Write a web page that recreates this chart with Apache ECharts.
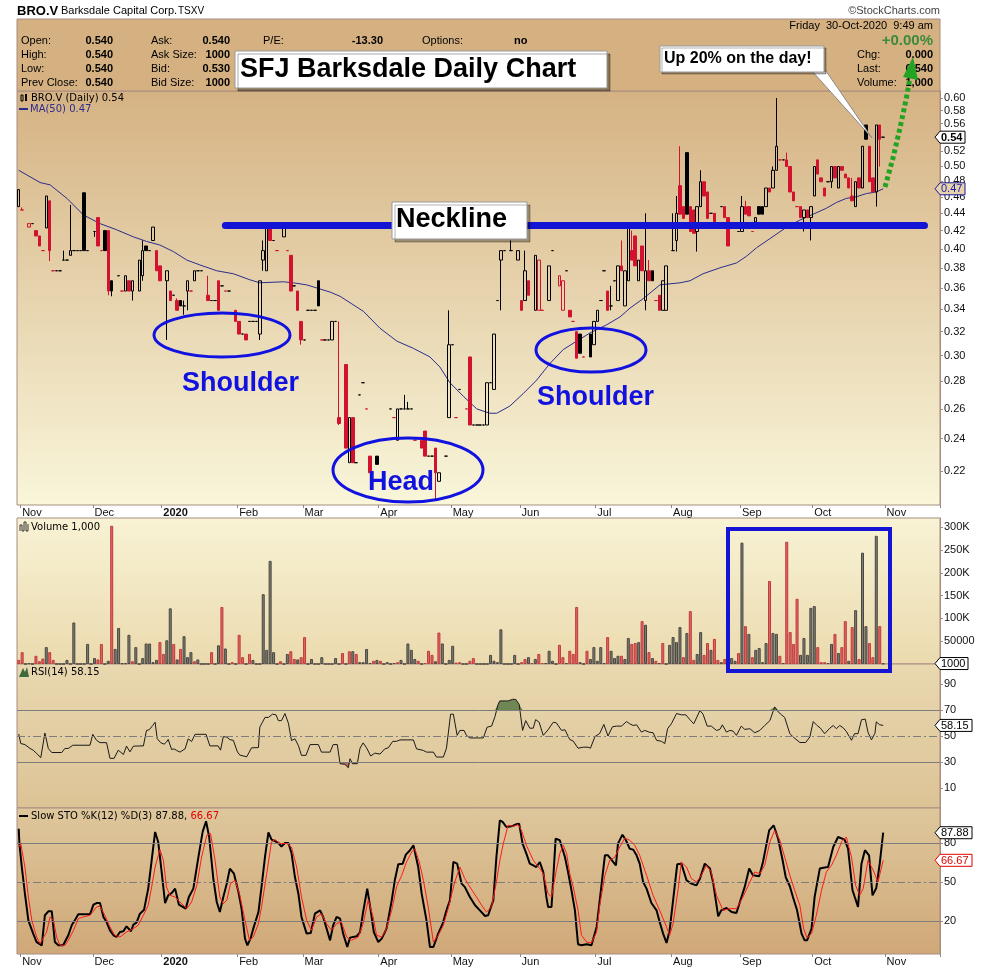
<!DOCTYPE html>
<html><head><meta charset="utf-8">
<script src="https://cdn.jsdelivr.net/npm/echarts@6/dist/echarts.min.js"></script>
<style>html,body{margin:0;padding:0;background:#fff}#c{width:990px;height:970px}</style>
</head><body><div id="c"></div>
<script>
// ---------- categories (trading days, TSXV) ----------
const holidays = ['2019-12-25','2019-12-26','2020-01-01','2020-02-17','2020-04-10','2020-05-18','2020-07-01','2020-08-03','2020-09-07','2020-10-12'];
function buildDays(a, b) {
  const out = []; const d = new Date(Date.UTC(a[0], a[1], a[2])); const e = new Date(Date.UTC(b[0], b[1], b[2]));
  while (d <= e) { const wd = d.getUTCDay(); const s = d.toISOString().slice(0, 10);
    if (wd !== 0 && wd !== 6 && holidays.indexOf(s) < 0) out.push(s); d.setUTCDate(d.getUTCDate() + 1); }
  return out;
}
const tradingDays = buildDays([2019, 9, 31], [2020, 10, 23]); // Oct 31 2019 .. (future slots to Nov 23 2020)
const monthNames = ['Jan','Feb','Mar','Apr','May','Jun','Jul','Aug','Sep','Oct','Nov','Dec'];

// ---------- price data: [open, close, low, high] ----------
const ohlc = [
[.448,.469,.448,.469],[.444,.444,.444,.447],null,[.424,.428,.424,.428],[.428,.428,.428,.428],
[.420,.414,.414,.420],[.414,.403,.403,.414],[.398,.398,.398,.398],[.423,.461,.423,.461],[.455,.398,.387,.455],
[.377,.377,.377,.377],[.377,.377,.377,.377],[.377,.377,.377,.377],[.388,.388,.388,.398],[.388,.388,.388,.388],
[.393,.398,.393,.450],[.398,.398,.398,.398],[.398,.398,.398,.398],[.398,.398,.398,.398],[.465,.398,.398,.465],
[.398,.398,.398,.398],null,[.419,.419,.413,.419],[.435,.403,.403,.435],[.398,.398,.398,.398],
[.420,.398,.398,.420],[.420,.357,.353,.420],[.367,.357,.352,.367],null,[.372,.372,.372,.372],
[.357,.357,.357,.357],[.357,.372,.357,.372],[.367,.357,.357,.367],[.357,.367,.348,.367],null,
[.357,.388,.357,.388],[.372,.398,.367,.409],[.403,.398,.398,.403],[.398,.398,.398,.398],[.409,.424,.409,.424],
[.398,.377,.377,.398],[.382,.367,.367,.382],null,[.367,.377,.313,.377],[.357,.348,.348,.357],
[.353,.353,.353,.353],[.348,.339,.339,.350],[.348,.343,.343,.348],[.343,.343,.335,.348],[.357,.367,.339,.367],
[.357,.357,.357,.357],[.367,.377,.367,.377],[.377,.377,.377,.377],[.377,.377,.377,.377],null,
[.353,.348,.348,.372],[.348,.348,.348,.348],[.348,.348,.348,.348],[.367,.339,.339,.367],[.362,.362,.362,.362],
[.357,.357,.357,.357],[.357,.357,.357,.357],null,[.339,.329,.329,.339],[.329,.318,.318,.329],
[.318,.318,.318,.318],[.318,.313,.313,.318],[.329,.329,.329,.329],[.329,.329,.329,.329],[.329,.329,.329,.329],
[.318,.367,.313,.367],[.388,.398,.377,.409],[.377,.424,.377,.424],[.424,.409,.409,.424],[.409,.409,.409,.409],
[.398,.398,.398,.398],null,[.413,.424,.413,.424],[.398,.398,.398,.398],[.393,.357,.357,.393],
[.362,.362,.362,.362],[.357,.339,.339,.357],[.329,.313,.309,.329],[.313,.313,.313,.313],[.339,.339,.339,.339],
[.339,.339,.339,.339],[.339,.339,.339,.339],[.367,.343,.343,.367],[.313,.313,.313,.313],[.313,.313,.313,.313],
[.313,.313,.313,.313],[.313,.329,.313,.329],[.329,.329,.329,.329],[.254,.250,.249,.329],null,
[.293,.234,.234,.293],[.225,.254,.225,.254],[.254,.225,.225,.254],[.225,.225,.225,.225],[.270,.270,.270,.270],
[.279,.279,.279,.279],[.260,.260,.260,.260],[.229,.219,.219,.229],null,[.229,.224,.224,.229],
null,null,null,[.260,.260,.260,.260],[.254,.254,.254,.254],
[.239,.260,.239,.260],[.260,.260,.260,.260],[.260,.260,.260,.270],[.260,.260,.260,.265],[.260,.260,.260,.260],
[.239,.239,.239,.239],null,[.239,.234,.234,.239],[.245,.229,.229,.245],[.229,.229,.229,.229],
[.229,.229,.229,.229],[.234,.219,.204,.234],[.214,.219,.214,.219],null,[.229,.229,.229,.229],
[.254,.309,.254,.339],[.309,.309,.309,.309],[.254,.254,.254,.254],[.274,.274,.274,.274],null,
[.260,.260,.260,.260],[.299,.249,.249,.299],[.249,.249,.249,.249],[.249,.249,.249,.249],[.249,.249,.249,.249],
[.249,.249,.249,.249],[.249,.279,.249,.279],[.279,.279,.279,.279],[.274,.318,.274,.318],[.348,.348,.348,.348],
[.388,.398,.339,.398],[.398,.398,.398,.398],null,[.398,.398,.398,.409],null,
[.388,.398,.388,.398],[.348,.339,.339,.348],[.348,.377,.348,.398],[.367,.353,.353,.367],null,
[.339,.393,.339,.393],[.339,.388,.339,.388],[.339,.339,.339,.339],null,[.348,.382,.348,.382],
[.398,.398,.398,.398],null,[.362,.372,.362,.372],[.339,.367,.339,.367],[.377,.377,.377,.377],
[.339,.333,.333,.339],[.329,.329,.329,.329],[.320,.298,.298,.320],[.318,.302,.302,.318],[.299,.299,.299,.299],
null,[.318,.299,.299,.318],[.309,.329,.309,.329],[.329,.339,.329,.339],[.348,.348,.348,.348],
[.377,.377,.377,.377],[.357,.339,.339,.357],[.343,.343,.339,.362],[.367,.367,.367,.367],[.348,.382,.348,.382],
[.382,.377,.377,.409],[.343,.377,.343,.377],[.367,.424,.367,.424],[.398,.388,.388,.420],[.414,.382,.382,.414],
[.367,.388,.367,.388],[.403,.377,.377,.403],[.348,.377,.339,.440],[.377,.367,.367,.388],[.377,.367,.367,.377],
[.348,.348,.348,.348],[.353,.339,.339,.353],[.339,.367,.339,.367],[.339,.382,.339,.382],null,
[.398,.398,.398,.440],[.409,.440,.397,.461],[.474,.439,.439,.527],[.448,.434,.434,.448],[.518,.439,.439,.518],
[.448,.419,.419,.448],[.444,.417,.417,.444],[.419,.448,.397,.448],[.448,.479,.448,.494],[.479,.461,.461,.479],
[.466,.434,.434,.466],[.440,.440,.440,.440],[.440,.430,.430,.440],null,[.448,.448,.448,.448],
[.448,.435,.435,.448],[.435,.403,.403,.435],null,null,[.419,.419,.419,.419],
[.419,.448,.419,.461],[.448,.439,.439,.455],[.448,.437,.437,.448],[.419,.419,.419,.419],[.430,.435,.430,.435],
[.448,.439,.439,.448],[.448,.439,.439,.448],[.448,.471,.448,.471],[.471,.466,.466,.471],[.471,.494,.471,.499],
[.494,.527,.494,.600],[.508,.508,.508,.508],[.508,.508,.508,.508],[.508,.499,.499,.518],[.499,.466,.466,.499],
[.466,.455,.455,.466],[.448,.448,.448,.448],[.448,.435,.435,.448],[.435,.444,.419,.444],[.444,.435,.435,.444],
[.435,.448,.409,.448],[.461,.499,.461,.499],[.508,.489,.489,.508],[.484,.479,.479,.484],[.471,.461,.461,.471],
[.479,.479,.479,.479],[.479,.499,.471,.499],[.499,.484,.484,.499],[.471,.499,.471,.499],[.499,.494,.494,.499],
[.489,.484,.484,.489],[.484,.471,.471,.484],[.461,.455,.455,.484],[.448,.479,.448,.479],[.484,.471,.471,.484],
[.471,.527,.471,.527],[.558,.537,.537,.558],[.527,.479,.479,.527],[.484,.466,.466,.484],[.466,.558,.448,.558],
[.558,.537,.499,.558],[.540,.540,.540,.540]
];

// ---------- volume ----------
const volume = [
9000,26000,0,1500,0,18000,6000,12000,37000,26000, 9000,0,0,0,9000,0,91000,0,0,0,
44000,0,13000,10000,44000,0,7000,303000,33000,79000, 1500,1500,64000,6000,37000,0,13000,45000,45000,4000,
9000,48000,22000,52000,122000,44000,10000,33000,61000,15000, 26000,6000,10000,0,0,0,26000,0,41000,125000,
34000,0,4000,0,64000,15000,0,22000,9000,0, 0,153000,31000,226000,26000,0,6000,0,22000,28000,
11000,10000,15000,59000,0,11000,0,0,15000,0, 0,0,13000,0,24000,0,28000,28000,22000,4000,
4000,33000,2000,7000,9000,7000,0,4000,0,2000, 4000,9000,0,45000,31000,11000,7000,0,2000,29000,
20000,6000,69000,45000,0,9000,40000,3000,4000,0, 0,7000,13000,0,0,0,0,20000,7000,4000,
76000,0,0,0,20000,0,4000,11000,15000,2000, 11000,22000,2000,2000,29000,7000,0,42000,15000,2000,
29000,22000,125000,4000,0,29000,11000,37000,7000,37000, 2000,59000,29000,13000,18000,18000,11000,57000,44000,46000,
48000,94000,86000,26000,13000,7000,2000,46000,0,42000, 59000,48000,81000,15000,68000,116000,9000,22000,70000,20000,
46000,31000,55000,9000,4000,11000,0,13000,7000,24000, 266000,83000,66000,15000,31000,35000,4000,46000,182000,68000,
66000,18000,2000,268000,70000,44000,143000,20000,57000,20000, 123000,127000,37000,4000,4000,2000,44000,66000,24000,37000,
94000,7000,81000,118000,11000,244000,83000,46000,15000,281000, 83000,1000
];
const volumeRedDays = [0,1,5,6,7,9,10,23,24,27,33,41,42,45,47,51,56,59,62,64,65,67,76,79,80,82,83,94,96,98,103,105,110,116,118,119,120,122,127,128,131,132,146,147,149,151,152,157,158,160,161,162,165,171,175,178,179,181,183,185,187,193,195,196,199,200,202,203,205,209,211,213,218,221,223,224,225,226,232,233,234,237,239,240,242,244,247,248,250];

// ---------- MA(50) [day position, value] ----------
const ma50 = [[0,.494],[6.2,.478],[9.1,.475],[14,.458],[18.8,.438],[23.6,.428],[28.4,.421],[33.3,.413],[37.1,.408],[41,.404],[44.9,.397],[48.8,.388],[52.6,.383],[57.5,.377],[62.3,.374],[67.1,.368],[70,.365],[76.8,.366],[79.7,.365],[83.6,.363],[90.4,.356],[93.3,.352],[100.1,.338],[104.9,.323],[109.8,.312],[114.6,.306],[119.4,.299],[122.3,.291],[125.2,.279],[129.1,.269],[133,.260],[136.8,.257],[138.8,.257],[142.6,.262],[146.5,.271],[150.4,.281],[154.3,.294],[158.1,.305],[162,.312],[165.9,.319],[170.7,.326],[174.6,.333],[177.5,.341],[181.4,.350],[186.2,.363],[192,.365],[194.9,.367],[198.7,.374],[203.6,.380],[208.4,.385],[211.3,.392],[214.2,.401],[218.1,.411],[223,.424],[226.8,.432],[230.7,.439],[234.5,.446],[237.4,.453],[240.3,.458],[243.2,.460],[246.1,.464],[249,.466],[251,.470]];

// ---------- RSI(14) ----------
const rsi14 = [[0,51.5],[0.6,44.2],[1.8,43.4],[3.3,40.4],[4.2,39.1],[5.2,36.6],[6.4,33.3],[6.7,33.3],[7.6,52.3],[8.6,40.4],[9.6,37.3],[12.5,37.3],[13.4,40.4],[14.4,40.4],[15.7,42.9],[20.7,42.9],[21.5,51.3],[22.6,46.7],[23.6,44.9],[25.5,44.9],[26.5,32.8],[27.7,32.8],[28.9,39.1],[30.4,35.8],[31.3,42.2],[32.3,37.8],[33.3,42.2],[36.2,42.4],[37.1,54.3],[37.9,54.8],[38.9,58.1],[39.6,60.6],[40.2,48.0],[41.2,44.9],[42.2,43.7],[42.9,45.3],[43.4,47.3],[44.4,39.6],[45.1,40.1],[45.9,38.8],[46.8,37.6],[48.3,40.1],[49.2,47.8],[50.2,45.8],[51.2,51.3],[54.4,51.3],[55.5,42.4],[57.9,42.4],[58.6,39.1],[59.4,49.5],[60.4,49.2],[61.3,47.2],[62.3,46.7],[63.5,37.8],[64.2,35.3],[66.2,34.0],[67.6,40.9],[69.6,41.1],[70.0,56.8],[71.5,64.3],[72.5,64.3],[73.7,66.8],[74.7,66.3],[75.4,61.8],[76.3,61.8],[77.3,67.3],[78.3,59.9],[79.2,46.5],[80.2,47.8],[81.2,42.7],[82.1,35.1],[83.4,35.1],[84.6,43.4],[87.0,43.4],[87.9,37.6],[90.4,37.6],[91.3,43.4],[92.5,43.4],[93.3,28.7],[94.7,28.2],[95.7,25.6],[96.2,32.5],[96.9,28.7],[98.3,28.7],[99.1,40.6],[100.0,44.7],[101.0,40.9],[102.2,34.6],[103.4,36.8],[104.9,36.1],[106.3,40.1],[107.3,40.9],[108.6,45.9],[109.7,45.9],[110.7,47.0],[114.6,47.0],[115.5,40.1],[117.5,38.9],[118.4,37.6],[120.4,37.6],[121.3,33.8],[123.3,33.8],[124.2,40.6],[125.4,66.8],[126.2,66.8],[127.3,50.5],[128.1,54.3],[129.3,54.3],[130.0,50.5],[131.0,48.5],[134.9,48.5],[136.0,56.8],[137.3,57.6],[138.3,65.1],[139.2,74.4],[139.7,77.0],[142.1,77.0],[143.4,78.2],[144.3,78.2],[145.3,74.4],[146.3,54.3],[147.2,61.8],[148.4,56.0],[149.4,56.0],[150.1,62.6],[151.1,60.6],[152.3,50.5],[153.7,54.8],[155.2,60.6],[156.1,60.1],[157.6,54.3],[158.6,54.8],[159.1,54.3],[160.0,47.3],[161.0,46.1],[162.4,40.6],[163.9,41.4],[165.3,41.4],[166.0,40.6],[167.3,49.5],[168.7,52.0],[169.9,58.9],[171.1,50.0],[172.4,57.1],[173.6,57.6],[175.0,57.6],[176.5,61.1],[177.4,59.4],[178.4,58.1],[179.4,58.6],[180.8,53.0],[181.8,54.3],[183.0,53.0],[184.2,52.5],[185.2,46.7],[186.6,45.9],[187.6,44.2],[188.4,55.6],[189.5,59.4],[191.0,67.3],[192.4,66.3],[193.7,66.3],[194.9,62.5],[196.0,59.4],[197.8,69.6],[198.7,66.8],[199.9,57.6],[201.1,57.6],[202.6,54.3],[203.6,55.1],[204.3,58.6],[205.5,53.0],[206.5,54.3],[207.4,53.8],[208.4,50.5],[209.8,57.6],[210.8,55.1],[212.3,55.6],[213.7,52.5],[215.2,54.3],[216.6,58.1],[218.1,61.8],[219.5,72.4],[220.5,68.6],[221.5,66.3],[222.4,64.3],[223.9,51.8],[224.9,49.2],[226.8,45.0],[228.5,45.0],[229.7,49.2],[230.7,61.1],[231.8,58.1],[232.8,56.0],[234.0,51.8],[235.5,56.0],[236.5,58.1],[237.4,55.6],[238.4,58.1],[239.4,56.3],[240.3,53.5],[241.8,46.7],[242.7,51.8],[243.7,51.8],[244.7,62.5],[245.8,63.0],[246.6,52.8],[247.6,47.0],[248.6,52.0],[249.0,60.9],[250.0,58.6],[251.0,58.15]];

// ---------- Slow STO %K(12) ----------
const stoK = [[0,91.0],[0.2,79.5],[0.9,61.5],[1.8,41.0],[2.8,20.5],[4.2,10.3],[5.2,3.8],[6.7,1.3],[7.6,24.4],[8.6,27.4],[9.6,27.4],[10.5,3.8],[11.5,1.3],[12.9,1.3],[14.4,9.0],[15.4,16.7],[16.3,20.5],[17.3,25.1],[20.7,25.1],[21.7,32.6],[22.6,33.8],[23.6,33.8],[24.6,23.1],[25.5,19.2],[26.5,12.8],[27.5,9.0],[28.4,7.7],[29.4,11.5],[30.4,12.1],[31.3,15.9],[32.6,12.1],[33.3,17.2],[34.2,18.7],[35.2,25.6],[36.4,28.7],[37.6,44.9],[38.6,66.7],[39.6,88.5],[40.5,80.8],[41.5,57.7],[42.5,33.8],[43.4,39.7],[44.4,41.5],[45.4,44.9],[46.5,32.6],[48.5,29.5],[49.4,38.5],[50.7,44.9],[52.1,67.9],[53.4,88.5],[54.4,96.7],[55.3,84.6],[56.5,52.6],[57.5,34.6],[58.4,26.9],[59.4,38.5],[60.4,48.7],[61.3,60.3],[62.5,56.4],[63.8,42.3],[64.7,29.5],[65.7,6.4],[66.4,1.3],[67.3,6.4],[68.1,14.1],[69.6,26.9],[70.5,46.2],[71.5,69.2],[72.5,88.2],[73.4,82.6],[74.4,81.4],[75.4,80.0],[76.3,77.3],[77.3,80.0],[78.3,80.0],[79.2,72.3],[80.2,53.8],[81.2,41.0],[82.1,23.1],[83.6,10.3],[84.8,10.8],[86.0,25.6],[87.5,28.2],[88.4,23.1],[89.4,14.1],[90.4,5.1],[91.3,16.7],[92.3,23.1],[93.3,21.8],[94.2,10.3],[95.4,0.0],[96.2,7.2],[98.1,8.2],[99.1,11.5],[100.0,26.9],[101.2,44.9],[102.2,28.2],[103.1,11.5],[104.4,3.8],[105.4,6.4],[106.8,14.1],[108.3,35.9],[109.2,51.3],[110.2,63.6],[111.5,64.1],[112.4,71.0],[113.6,74.4],[114.6,78.2],[116.0,61.5],[117.0,41.0],[118.4,20.5],[119.4,0.0],[120.4,0.0],[121.8,10.3],[123.1,17.9],[124.2,28.2],[125.2,35.9],[126.2,65.4],[127.3,64.1],[128.6,48.7],[129.5,46.2],[131.0,38.5],[132.5,32.1],[133.9,28.2],[135.4,23.8],[136.3,24.4],[137.8,35.9],[138.7,69.2],[139.7,97.4],[140.5,96.2],[141.6,92.3],[143.1,92.8],[144.5,94.4],[145.3,94.9],[146.3,79.5],[147.4,71.8],[148.4,64.1],[149.4,62.8],[150.3,61.5],[151.3,65.4],[152.3,57.7],[153.2,38.5],[153.7,30.8],[154.7,30.8],[155.9,83.3],[157.1,82.1],[158.6,69.2],[159.5,57.7],[160.5,43.6],[161.5,28.2],[162.4,2.1],[163.4,1.3],[164.9,2.1],[166.3,1.3],[167.8,15.4],[168.7,35.9],[170.2,70.5],[171.1,70.5],[172.6,65.4],[173.4,62.8],[174.0,79.5],[175.3,86.4],[176.3,82.1],[177.4,75.6],[178.4,74.9],[179.4,70.5],[180.3,64.1],[181.3,50.0],[182.3,44.9],[183.7,33.8],[184.2,33.3],[185.2,28.2],[186.1,19.2],[187.1,10.3],[188.1,3.1],[189.0,12.8],[190.0,35.9],[191.2,63.6],[192.4,64.1],[193.9,51.3],[195.3,48.7],[196.8,47.4],[197.8,52.6],[199.2,64.1],[200.7,60.3],[201.6,50.0],[203.1,23.6],[204.0,28.2],[205.5,30.0],[207.0,26.9],[208.4,26.2],[209.4,34.6],[210.8,46.2],[212.1,60.3],[213.2,55.1],[215.0,54.4],[216.1,65.4],[217.9,89.7],[219.2,93.6],[220.5,83.3],[221.8,66.7],[222.7,53.8],[223.9,46.7],[224.8,38.5],[226.0,28.2],[227.3,10.3],[228.2,5.1],[228.9,5.1],[230.2,14.1],[231.1,38.5],[232.6,60.3],[233.6,61.0],[235.0,61.5],[236.5,76.9],[237.9,84.6],[239.8,82.6],[240.8,75.6],[242.1,43.6],[243.7,30.8],[244.7,64.1],[245.7,74.4],[246.9,70.5],[247.9,39.7],[249.0,45.4],[250.0,64.1],[251.0,87.88]];

// ---------- Slow STO %D(3) ----------
const stoD = [[0,76.9],[0.6,79.5],[1.8,61.5],[2.8,38.5],[3.8,20.5],[5.2,7.7],[6.2,2.6],[6.7,1.3],[8.1,11.5],[9.1,23.1],[10.1,20.5],[11.0,7.7],[12.0,1.3],[13.4,1.3],[14.4,5.1],[15.9,12.8],[17.3,21.8],[18.8,23.1],[20.7,24.4],[22.6,30.8],[23.6,31.3],[25.0,24.4],[26.5,15.4],[27.9,9.0],[29.4,7.7],[31.3,11.5],[33.3,14.1],[34.7,16.7],[36.2,24.4],[37.6,32.1],[38.6,46.2],[39.6,61.5],[41.0,74.9],[42.0,66.7],[42.9,46.2],[43.9,39.7],[45.4,38.5],[46.8,34.6],[48.8,29.5],[50.2,34.6],[51.7,47.4],[53.1,69.2],[54.6,85.9],[55.7,87.2],[57.0,66.7],[58.4,38.5],[59.4,33.3],[60.4,35.9],[61.5,48.7],[62.8,51.3],[64.2,39.7],[65.7,20.5],[67.0,5.1],[68.1,7.7],[69.6,17.9],[70.5,30.8],[72.0,56.4],[73.4,80.8],[74.4,82.6],[75.9,79.5],[77.8,79.5],[79.2,76.9],[80.7,61.5],[82.1,38.5],[83.6,20.5],[85.0,12.8],[86.5,23.1],[87.9,25.6],[89.4,17.9],[90.8,12.8],[92.3,17.9],[93.7,19.2],[95.2,7.7],[96.6,5.1],[98.6,7.7],[100.0,17.9],[101.5,36.4],[102.9,23.1],[103.9,9.0],[105.4,7.7],[106.8,14.1],[108.3,28.2],[109.7,46.2],[111.2,55.1],[112.6,65.4],[114.1,73.1],[115.0,75.6],[116.3,65.4],[117.5,51.3],[118.9,30.8],[120.4,3.8],[121.8,9.0],[123.3,16.7],[124.7,29.5],[126.6,50.0],[128.1,61.5],[129.5,52.6],[131.0,46.2],[132.9,38.5],[134.4,32.1],[135.8,26.9],[137.3,30.8],[138.7,50.0],[139.7,66.7],[140.7,79.5],[142.1,93.6],[143.6,92.8],[145.0,94.1],[146.0,89.7],[147.4,78.2],[149.4,66.7],[151.3,60.3],[152.3,56.4],[153.7,41.0],[154.7,38.5],[156.1,59.0],[157.1,71.8],[158.1,78.2],[159.1,71.8],[160.0,56.4],[161.0,46.2],[162.4,28.2],[163.4,9.0],[164.9,3.8],[166.3,3.1],[167.8,11.5],[168.7,32.1],[170.2,55.1],[171.6,66.7],[173.1,69.2],[174.5,76.9],[176.0,83.8],[177.4,82.1],[178.9,78.2],[180.3,70.5],[182.3,55.1],[184.2,39.7],[186.1,28.2],[188.1,15.4],[189.0,9.0],[190.0,17.9],[191.5,44.9],[192.4,65.4],[193.9,61.5],[195.3,52.6],[196.8,50.0],[198.2,55.1],[199.7,62.8],[201.1,57.7],[202.6,39.7],[204.5,28.2],[206.5,29.5],[208.4,29.5],[210.3,38.5],[212.3,50.0],[213.7,57.7],[215.2,56.4],[216.6,62.8],[218.1,80.8],[219.5,89.7],[221.0,82.1],[222.4,69.2],[223.9,55.1],[225.3,43.6],[226.8,32.1],[227.9,14.1],[228.9,6.9],[230.2,10.3],[231.6,24.4],[233.1,43.6],[234.5,57.7],[236.0,62.8],[237.4,70.5],[238.9,80.8],[240.3,84.6],[241.8,69.2],[243.0,47.4],[244.2,39.7],[245.2,44.9],[246.6,66.7],[248.1,59.0],[249.5,50.0],[251.0,66.67]];

// ---------- tick labels ----------
const priceTicks = [0.22,0.24,0.26,0.28,0.30,0.32,0.34,0.36,0.38,0.40,0.42,0.44,0.46,0.48,0.50,0.52,0.54,0.56,0.58,0.60];
const volumeTicks = [50000,100000,150000,200000,250000,300000];
const rsiTicks = [10,30,50,70,90];
const stoTicks = [20,50,80];
const necklinePrice = 0.4265;
const lastPrice = 0.54, lastMA = 0.47, lastVolume = 1000, lastRSI = 58.15, lastK = 87.88, lastD = 66.67;

// ---------- build ----------
const FONT = '"Liberation Sans", Arial, sans-serif';
const VFONT = '"DejaVu Sans", Verdana, sans-serif';
const isMonthStart = tradingDays.map((d, i) => i > 0 && d.slice(5, 7) !== tradingDays[i - 1].slice(5, 7));
const monthLabel = (v) => { const m = +v.slice(5, 7); return m === 1 ? '{y|' + v.slice(0, 4) + '}' : monthNames[m - 1]; };

let prevClose = null;
const candleData = ohlc.map((r) => {
  if (!r) return '-';
  const o = r[0], c = r[1];
  const col = (prevClose === null || c >= prevClose) ? '#000000' : '#d2122e';
  prevClose = c;
  const fill = c > o ? 'rgba(0,0,0,0)' : col;
  return { value: r.map(Math.log), itemStyle: { color: fill, color0: col, borderColor: col, borderColor0: col, borderColorDoji: col } };
});
const volData = volume.map((v, i) => {
  const red = volumeRedDays.indexOf(i) >= 0;
  return { value: v, itemStyle: { color: red ? '#d9686a' : '#7e7b72', borderColor: red ? '#c23a3a' : '#4a4842', borderWidth: 1 } };
});

function grad(a, b) { return { type: 'linear', x: 0, y: 0, x2: 0, y2: 1, colorStops: [{ offset: 0, color: a }, { offset: 1, color: b }] }; }
const BORDER = '#a88c80';
const grids = [
  { left: 17, top: 91, width: 923, height: 414, show: true, borderColor: BORDER, borderWidth: 1, backgroundColor: grad('#d5b283', '#f9f6da') },
  { left: 17, top: 518, width: 923, height: 146, show: true, borderColor: BORDER, borderWidth: 1, backgroundColor: grad('#f8f3d5', '#ebdaae') },
  { left: 17, top: 664, width: 923, height: 144, show: true, borderColor: BORDER, borderWidth: 1, backgroundColor: grad('#e9d8b0', '#dcc396') },
  { left: 17, top: 808, width: 923, height: 146, show: true, borderColor: BORDER, borderWidth: 1, backgroundColor: grad('#dec79c', '#d0a878') }
];
function catAxis(gi, labels) {
  return { type: 'category', gridIndex: gi, data: tradingDays, boundaryGap: true,
    axisLine: { show: false, onZero: false },
    axisTick: { show: labels, interval: (i) => isMonthStart[i], length: 3, inside: false, lineStyle: { color: '#888' } },
    axisLabel: labels ? { show: true, interval: (i) => isMonthStart[i], formatter: monthLabel, align: 'left', margin: 2,
      fontSize: 11, color: '#111', fontFamily: FONT, rich: { y: { fontWeight: 'bold', fontSize: 11, fontFamily: FONT, color: '#111' } } } : { show: false },
    splitLine: { show: false } };
}
function valX(gi) { return { type: 'value', gridIndex: gi, min: -0.5, max: tradingDays.length - 0.5, show: false,
  axisLine: { show: false, onZero: false }, axisTick: { show: false }, axisLabel: { show: false }, splitLine: { show: false } }; }
function rightY(gi, min, max, ticks, fmt) {
  return { type: 'value', gridIndex: gi, position: 'right', min, max, scale: false,
    axisLine: { show: true, onZero: false, lineStyle: { color: BORDER } },
    axisTick: { show: true, customValues: ticks, length: 3, lineStyle: { color: BORDER } },
    axisLabel: { show: true, customValues: ticks, formatter: fmt, fontSize: 11, color: '#111', fontFamily: FONT, margin: 4 },
    splitLine: { show: false } };
}
const dashDot = [8, 3, 2, 3];
function levelLines(levels) {
  return { silent: true, symbol: 'none', label: { show: false }, animation: false,
    data: levels.map(l => ({ yAxis: l[0], lineStyle: { color: '#7d7d7d', width: 1, type: l[1] ? dashDot : 'solid' } })) };
}

const option = {
  animation: false,
  backgroundColor: '#ffffff',
  grid: grids,
  xAxis: [catAxis(0, true), catAxis(1, false), catAxis(2, false), catAxis(3, true), valX(0), valX(2), valX(3)],
  yAxis: [
    rightY(0, Math.log(0.2008), Math.log(0.6114), priceTicks.map(Math.log), (v) => Math.exp(v).toFixed(2)),
    rightY(1, 0, 320000, volumeTicks, (v) => v >= 100000 ? (v / 1000) + 'K' : String(v)),
    rightY(2, -5.4, 105.4, rsiTicks, (v) => String(v)),
    rightY(3, -5.4, 106.9, stoTicks, (v) => String(v))
  ],
  series: [
    { type: 'candlestick', xAxisIndex: 0, yAxisIndex: 0, data: candleData, barWidth: 3, z: 3,
      itemStyle: { borderWidth: 1 },
      markLine: { silent: true, symbol: 'none', label: { show: false }, z: 10,
        lineStyle: { color: '#1414d4', width: 7, type: 'solid', cap: 'round' },
        data: [[{ coord: [60, Math.log(necklinePrice)] }, { coord: [263, Math.log(necklinePrice)] }]] } },
    { type: 'line', xAxisIndex: 4, yAxisIndex: 0, data: ma50.map(p => [p[0], Math.log(p[1])]), showSymbol: false, symbol: 'none',
      lineStyle: { color: '#2c2c8e', width: 1 }, z: 2 },
    { type: 'bar', xAxisIndex: 1, yAxisIndex: 1, data: volData, barWidth: 3 },
    { type: 'line', xAxisIndex: 5, yAxisIndex: 2, data: rsi14, showSymbol: false, symbol: 'none',
      lineStyle: { color: '#1a1a1a', width: 1 }, z: 4,
      markLine: levelLines([[70, false], [50, true], [30, false]]) },
    { type: 'line', xAxisIndex: 5, yAxisIndex: 2, data: rsi14.map(p => [p[0], Math.max(p[1], 70)]), showSymbol: false, symbol: 'none',
      lineStyle: { width: 0, opacity: 0 }, areaStyle: { origin: 70, color: '#6f8752', opacity: 1 }, z: 3 },
    { type: 'line', xAxisIndex: 5, yAxisIndex: 2, data: rsi14.map(p => [p[0], Math.min(p[1], 30)]), showSymbol: false, symbol: 'none',
      lineStyle: { width: 0, opacity: 0 }, areaStyle: { origin: 30, color: '#b26a54', opacity: 1 }, z: 3 },
    { type: 'line', xAxisIndex: 6, yAxisIndex: 3, data: stoD, showSymbol: false, symbol: 'none',
      lineStyle: { color: '#ff1a1a', width: 1 }, z: 5 },
    { type: 'line', xAxisIndex: 6, yAxisIndex: 3, data: stoK, showSymbol: false, symbol: 'none',
      lineStyle: { color: '#000000', width: 2 }, z: 4,
      markLine: levelLines([[80, false], [50, true], [20, false]]) }
  ]
};

const chart = echarts.init(document.getElementById('c'), null, { renderer: 'canvas' });
chart.setOption(option);

// ---------- annotations ----------
function T(x, y, text, font, fill, align, extra) {
  return Object.assign({ type: 'text', z: 150, style: { text: text, x: x, y: y, font: font, fill: fill,
    align: align || 'left', verticalAlign: 'middle', textAlign: align || 'left', textVerticalAlign: 'middle' } }, extra || {});
}
function tag(y, txt, stroke, color, bold, w, fill) {
  const x0 = 935;
  return { type: 'group', z: 160, children: [
    { type: 'polygon', z: 160, shape: { points: [[x0, y], [x0 + 5, y - 6], [x0 + w, y - 6], [x0 + w, y + 6], [x0 + 5, y + 6]] },
      style: { fill: fill || '#ffffff', stroke: stroke, lineWidth: 1 } },
    T(x0 + 6, y + 0.5, txt, (bold ? 'bold ' : '') + '11px ' + FONT, color, 'left', { z: 161 })
  ] };
}
const yOf = (si, x, v) => chart.convertToPixel({ seriesIndex: si }, [x, v])[1];
const lastIdx = ohlc.length - 1;

const f11 = '11px ' + FONT, b11 = 'bold 11px ' + FONT;
const g = [];
// header
g.push(T(17, 11, 'BRO.V', 'bold 13px ' + FONT, '#000'));
g.push(T(61, 11, 'Barksdale Capital Corp.', '11px ' + FONT, '#000'));
g.push(T(178, 11, 'TSXV', '10px ' + FONT, '#000'));
g.push(T(940, 11, '\u00A9StockCharts.com', '11px ' + FONT, '#444', 'right'));
g.push({ type: 'rect', z: 5, shape: { x: 17, y: 19, width: 923, height: 72 }, style: { fill: '#d5b182', stroke: BORDER, lineWidth: 1 } });
const rows = [41, 55, 69, 83];
[['Open:', '0.540'], ['High:', '0.540'], ['Low:', '0.540'], ['Prev Close:', '0.540']].forEach((r, i) => {
  g.push(T(21, rows[i], r[0], f11, '#000')); g.push(T(113, rows[i], r[1], b11, '#000', 'right'));
});
[['Ask:', '0.540'], ['Ask Size:', '1000'], ['Bid:', '0.530'], ['Bid Size:', '1000']].forEach((r, i) => {
  g.push(T(151, rows[i], r[0], f11, '#000')); g.push(T(230, rows[i], r[1], b11, '#000', 'right'));
});
g.push(T(263, 41, 'P/E:', f11, '#000')); g.push(T(383, 41, '-13.30', b11, '#000', 'right'));
g.push(T(422, 41, 'Options:', f11, '#000')); g.push(T(514, 41, 'no', b11, '#000'));
g.push(T(933, 26, 'Friday  30-Oct-2020  9:49 am', f11, '#000', 'right'));
g.push(T(933, 41, '+0.00%', 'bold 15px ' + FONT, '#3c8a3c', 'right'));
[['Chg:', '0.000'], ['Last:', '0.540'], ['Volume:', '1,000']].forEach((r, i) => {
  g.push(T(857, rows[i + 1], r[0], f11, '#000')); g.push(T(933, rows[i + 1], r[1], b11, '#000', 'right'));
});
// title box
g.push({ type: 'rect', z: 150, shape: { x: 235, y: 51, width: 372, height: 37 },
  style: { fill: '#ffffff', stroke: '#999', lineWidth: 1, shadowBlur: 0, shadowOffsetX: 3, shadowOffsetY: 3, shadowColor: 'rgba(0,0,0,0.35)' } });
g.push(T(240, 70, 'SFJ Barksdale Daily Chart', 'bold 27px ' + FONT, '#000', 'left', { z: 151 }));
// callout
g.push({ type: 'polygon', z: 150, shape: { points: [[812, 71], [826, 71], [872, 138]] }, style: { fill: '#ffffff', stroke: '#8a8a8a', lineWidth: 1 } });
g.push({ type: 'rect', z: 151, shape: { x: 660, y: 46, width: 164, height: 26 },
  style: { fill: '#ffffff', stroke: '#999', lineWidth: 1, shadowOffsetX: 2, shadowOffsetY: 2, shadowColor: 'rgba(0,0,0,0.3)' } });
g.push(T(664, 59, 'Up 20% on the day!', 'bold 16px ' + FONT, '#000', 'left', { z: 152 }));
// green dotted arrow
g.push({ type: 'polyline', z: 152, shape: { points: [[885, 187], [893, 158], [900, 128], [906, 100], [910, 78]] },
  style: { stroke: '#22a322', lineWidth: 5, lineDash: [4, 3], fill: null } });
g.push({ type: 'polygon', z: 152, shape: { points: [[903, 77], [918, 80], [913, 57]] }, style: { fill: '#22a322' } });
// panel legends
g.push({ type: 'rect', z: 150, shape: { x: 21, y: 95, width: 2, height: 6 }, style: { fill: 'none', stroke: '#000', lineWidth: 1 } });
g.push({ type: 'rect', z: 150, shape: { x: 25, y: 94, width: 2, height: 7 }, style: { fill: '#000' } });
g.push(T(31, 98, 'BRO.V (Daily) 0.54', '10px ' + VFONT, '#000'));
g.push({ type: 'line', z: 150, shape: { x1: 19, y1: 109, x2: 28, y2: 109 }, style: { stroke: '#2c2c8e', lineWidth: 2 } });
g.push(T(30, 109, 'MA(50) 0.47', '10px ' + VFONT, '#2c2c8e'));
g.push(T(31, 527, 'Volume 1,000', '10px ' + VFONT, '#000'));
g.push({ type: 'polyline', z: 150, shape: { points: [[20, 531], [20, 525], [22, 525], [22, 531], [24, 531], [24, 522], [26, 522], [26, 531], [28, 531], [28, 524]] }, style: { stroke: '#333', fill: null, lineWidth: 1 } });
g.push(T(31, 672, 'RSI(14) 58.15', '10px ' + VFONT, '#000'));
g.push({ type: 'polygon', z: 150, shape: { points: [[19, 677], [23, 668], [25, 672], [27, 667], [29, 677]] }, style: { fill: '#3e6b3e' } });
g.push({ type: 'line', z: 150, shape: { x1: 19, y1: 816, x2: 28, y2: 816 }, style: { stroke: '#000', lineWidth: 2 } });
g.push({ type: 'text', z: 150, style: { text: '{a|Slow STO %K(12) %D(3) 87.88, }{b|66.67}', x: 31, y: 816, verticalAlign: 'middle', textVerticalAlign: 'middle',
  rich: { a: { fontSize: 10, fontFamily: VFONT, fill: '#000', color: '#000' }, b: { fontSize: 10, fontFamily: VFONT, fill: '#e00000', color: '#e00000' } } } });
// pattern annotations
const BLUE = '#1212e0';
g.push({ type: 'ellipse', z: 155, shape: { cx: 222, cy: 335, rx: 68, ry: 22 }, style: { fill: 'none', stroke: BLUE, lineWidth: 3 } });
g.push({ type: 'ellipse', z: 155, shape: { cx: 408, cy: 470, rx: 75, ry: 32 }, style: { fill: 'none', stroke: BLUE, lineWidth: 3 } });
g.push({ type: 'ellipse', z: 155, shape: { cx: 591, cy: 350, rx: 55, ry: 22 }, style: { fill: 'none', stroke: BLUE, lineWidth: 3 } });
g.push(T(182, 384, 'Shoulder', 'bold 27px ' + FONT, BLUE));
g.push(T(537, 398, 'Shoulder', 'bold 27px ' + FONT, BLUE));
g.push(T(368, 483, 'Head', 'bold 27px ' + FONT, BLUE));
g.push({ type: 'rect', z: 156, shape: { x: 392, y: 202, width: 135, height: 37 },
  style: { fill: '#ffffff', stroke: '#999', lineWidth: 1, shadowOffsetX: 3, shadowOffsetY: 3, shadowColor: 'rgba(0,0,0,0.3)' } });
g.push(T(396, 220, 'Neckline', 'bold 27px ' + FONT, '#000', 'left', { z: 157 }));
g.push({ type: 'rect', z: 155, shape: { x: 728, y: 529, width: 162, height: 142 }, style: { fill: 'none', stroke: '#1414d4', lineWidth: 4 } });
// value tags
g.push(tag(yOf(0, lastIdx, Math.log(lastPrice)), lastPrice.toFixed(2), '#000', '#000', true, 30));
g.push(tag(yOf(0, lastIdx, Math.log(lastMA)), lastMA.toFixed(2), '#1a1aa0', '#1a1aa0', false, 30, '#e6d3ab'));
g.push(tag(yOf(2, lastIdx, lastVolume), String(lastVolume), '#000', '#000', false, 33));
g.push(tag(yOf(3, lastIdx, lastRSI), lastRSI.toFixed(2), '#000', '#000', false, 37));
g.push(tag(yOf(7, lastIdx, lastK), lastK.toFixed(2), '#000', '#000', false, 37));
g.push(tag(yOf(6, lastIdx, lastD), lastD.toFixed(2), '#e00000', '#e00000', false, 37));
chart.setOption({ graphic: { elements: g } });
</script>
</body></html>
